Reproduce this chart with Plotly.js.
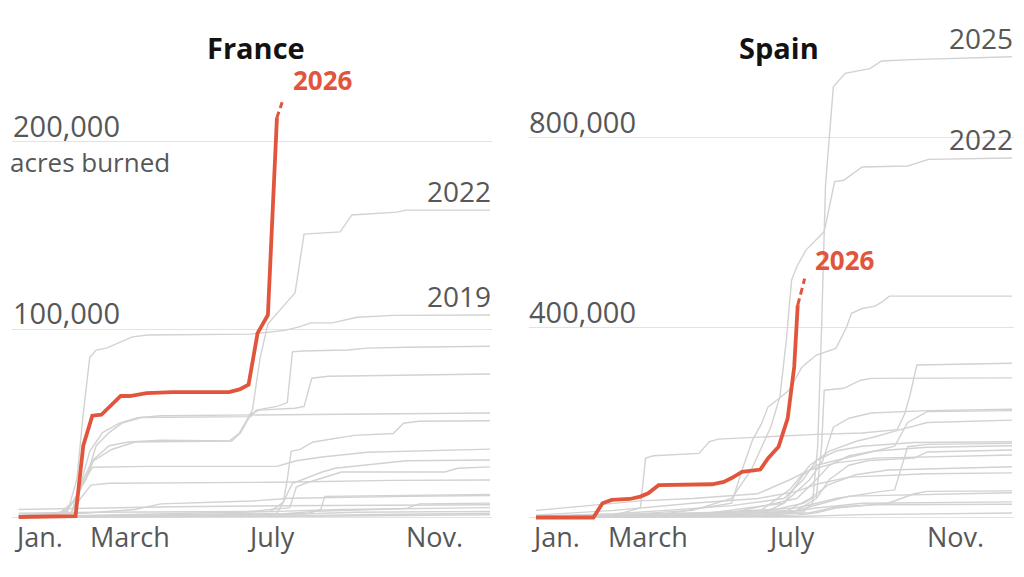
<!DOCTYPE html>
<html>
<head>
<meta charset="utf-8">
<script src="https://cdn.plot.ly/plotly-3.0.1.min.js"></script>
<style>html,body{margin:0;padding:0;background:#fff;}#chart{width:1024px;height:577px;}</style>
</head>
<body>
<div id="chart"></div>
<script>
// ---------- DATA (x = day of year, y = cumulative acres burned) ----------
const monthLabels = ['Jan.', 'March', 'July', 'Nov.'];
const monthDays = [0, 59, 181, 304];

const franceTicks = [0, 100000, 200000];
const franceTickLabels = ['', '100,000', '200,000'];
const spainTicks = [0, 400000, 800000];
const spainTickLabels = ['', '400,000', '800,000'];

// France 2026 (solid) and its latest, provisional stretch (dashed)
const france2026 = [[0,0],[44,500],[50,38000],[57,54000],[64,54500],[70,58600],[79,64500],[86,64500],[99,66000],[119,66600],[163,66600],[171,68000],[178,70500],[185,98000],[193,107700],[200,213000]];
const france2026Latest = [[200,213000],[205,223000]];

const france2022 = [[0,0],[40,1000],[50,20000],[57,30000],[70,38000],[85,40000],[110,41000],[163,40500],[171,44800],[181,57000],[187,85000],[193,103000],[207,114000],[214,119400],[221,150800],[249,152000],[258,161000],[293,162500],[300,163600],[365,163600]];
const france2019 = [[0,500],[38,3000],[45,20000],[50,55000],[55,85000],[60,89000],[68,90000],[78,93000],[88,96000],[100,97000],[180,97500],[206,99500],[218,101500],[226,103500],[243,103500],[262,106500],[290,107500],[365,107700]];
const franceOtherYears = [
  [[0,0],[30,1000],[40,6000],[52,20000],[60,38000],[70,45000],[80,50000],[95,53000],[180,53500],[184,57000],[200,59000],[208,61000],[212,88000],[220,88500],[255,89000],[270,90000],[300,90500],[365,91000]],
  [[0,0],[35,2000],[45,10000],[55,35000],[65,45000],[78,50000],[92,53000],[110,54000],[250,54800],[365,55400]],
  [[0,0],[40,500],[48,15000],[58,30000],[72,36000],[90,40000],[165,40500],[172,45000],[180,55000],[186,57000],[214,58000],[221,59000],[227,74000],[240,75000],[365,76200]],
  [[0,0],[100,1500],[195,3000],[205,8000],[208,20000],[211,35000],[218,36000],[228,40000],[245,42000],[260,43500],[290,44500],[298,50000],[310,51000],[365,51300]],
  [[0,0],[30,1000],[42,8000],[50,18000],[57,26500],[100,27000],[200,27000],[205,28000],[215,30000],[235,32000],[270,34500],[365,36200]],
  [[0,0],[60,500],[150,1500],[200,2000],[205,8000],[212,18000],[220,20000],[235,24000],[245,26000],[270,28000],[300,30000],[365,30400]],
  [[0,0],[150,1000],[210,5000],[215,16000],[222,18000],[250,24000],[330,24000],[340,26000],[365,26700]],
  [[0,500],[40,2000],[48,10000],[56,17000],[70,18000],[200,18500],[290,19500],[365,19700]],
  [[0,0],[150,500],[225,2000],[234,4000],[237,11000],[300,11500],[365,12000]],
  [[0,1000],[50,2000],[90,4000],[110,7000],[180,8500],[210,10000],[300,11000],[365,11500]],
  [[0,0],[100,500],[200,1500],[230,3000],[300,4500],[310,7000],[365,7400]],
  [[0,4000],[40,4500],[60,5000],[120,5500],[200,6000],[365,6500]],
  [[0,2000],[60,2500],[200,3000],[250,4000],[365,5000]],
  [[0,0],[180,500],[215,1500],[260,2500],[365,3000]],
  [[0,0],[200,300],[260,1200],[365,2000]],
  [[0,0],[250,500],[365,1200]]
];

// Spain
const spain2026 = [[0,0],[44,0],[51,30000],[58,37000],[72,39000],[80,44000],[86,51000],[94,68000],[135,70000],[144,75000],[150,83000],[158,96000],[172,101000],[178,125000],[186,149000],[193,209000],[198,317000],[200.7,447000]];
const spain2026Latest = [[200.7,447000],[206,503000]];

const spain2025 = [[0,0],[100,3000],[180,8000],[205,12000],[212,30000],[216,150000],[219,400000],[222,700000],[228,907000],[237,935000],[256,945000],[265,961000],[288,964000],[365,970000]];
const spain2022 = [[0,0],[60,5000],[120,15000],[150,40000],[165,100000],[175,160000],[180,190000],[187,254000],[192,374000],[196,500000],[200,528000],[207,563000],[221,602000],[229,707000],[236,710000],[250,738000],[285,740000],[301,754000],[365,757000]];
const spainOtherYears = [
  [[0,0],[60,3000],[100,8000],[150,30000],[158,100000],[166,163000],[173,198000],[178,233000],[187,252000],[194,268000],[204,317000],[215,342000],[230,356000],[238,400000],[242,430000],[250,440000],[260,445000],[266,455000],[271,466000],[365,466000]],
  [[0,0],[60,5000],[80,20000],[84,125000],[90,130000],[125,135000],[133,160000],[140,165000],[215,175000],[250,178000],[277,185000],[283,220000],[287,260000],[292,321000],[365,324600]],
  [[0,0],[100,5000],[180,15000],[205,30000],[215,45000],[219,150000],[221,268000],[236,272000],[249,289000],[257,293000],[365,294000]],
  [[0,0],[120,5000],[190,30000],[210,80000],[220,120000],[228,190000],[240,209000],[257,220000],[300,225000],[365,228000]],
  [[0,0],[150,10000],[200,40000],[215,80000],[225,110000],[240,130000],[260,140000],[275,150000],[285,200000],[300,223000],[365,225000]],
  [[0,0],[100,2000],[170,10000],[195,60000],[210,110000],[225,140000],[245,160000],[260,170000],[278,184000],[300,200000],[365,205000]],
  [[0,3000],[60,8000],[100,15000],[150,25000],[190,40000],[205,80000],[215,120000],[230,140000],[250,150000],[290,158000],[365,159600]],
  [[0,0],[100,5000],[200,20000],[230,40000],[265,55000],[275,58000],[285,149000],[300,154000],[365,156000]],
  [[0,0],[100,5000],[175,10000],[190,30000],[205,90000],[215,110000],[230,120000],[260,140000],[300,148000],[365,151000]],
  [[0,0],[150,5000],[200,15000],[215,40000],[225,80000],[240,110000],[255,120000],[290,125000],[300,138000],[365,142000]],
  [[0,15000],[40,25000],[80,35000],[120,40000],[170,50000],[195,80000],[210,100000],[230,115000],[260,125000],[365,131600]],
  [[0,0],[100,5000],[190,10000],[210,40000],[225,70000],[245,90000],[270,100000],[365,107000]],
  [[0,5000],[60,15000],[120,30000],[170,40000],[200,55000],[215,70000],[240,85000],[300,92000],[365,94000]],
  [[0,0],[150,3000],[200,5000],[215,10000],[230,20000],[270,30000],[290,50000],[300,55000],[365,56000]],
  [[0,2000],[100,8000],[200,15000],[220,30000],[240,45000],[365,52000]],
  [[0,1000],[100,5000],[190,10000],[215,20000],[250,30000],[365,33000]],
  [[0,0],[150,2000],[210,10000],[230,22000],[260,27000],[365,28000]],
  [[0,0],[200,2000],[250,6000],[365,9500]]
];

// ---------- STYLE ----------
const RED = '#e1553d';
const GREY = '#d2d2d2';
const GRID = '#e3e3e3';
const TEXT = '#575757';
const FONT = '"Open Sans", Roboto, Arial, sans-serif';

function xs(s){ return s.map(p => p[0]); }
function ys(s){ return s.map(p => p[1]); }

const traces = [];
function grey(s, xa, ya){
  traces.push({x: xs(s), y: ys(s), xaxis: xa, yaxis: ya, mode: 'lines', type: 'scatter',
    line: {color: GREY, width: 1.4}, hoverinfo: 'skip', showlegend: false});
}
franceOtherYears.forEach(s => grey(s, 'x', 'y'));
grey(france2019, 'x', 'y');
grey(france2022, 'x', 'y');
spainOtherYears.forEach(s => grey(s, 'x2', 'y2'));
grey(spain2022, 'x2', 'y2');
grey(spain2025, 'x2', 'y2');

function red(s, xa, ya, dash){
  traces.push({x: xs(s), y: ys(s), xaxis: xa, yaxis: ya, mode: 'lines', type: 'scatter',
    line: {color: RED, width: dash ? 3 : 3.8, dash: dash || 'solid'}, hoverinfo: 'skip', showlegend: false});
}
red(france2026, 'x', 'y');
red(france2026Latest, 'x', 'y', '6px,4px');
red(spain2026, 'x2', 'y2');
red(spain2026Latest, 'x2', 'y2', '7px,4px');

// ---------- LAYOUT (pixel geometry) ----------
const W = 1024, H = 577;
const plotTop = 30, plotBottom = 522;
const yDomain = [(H - plotBottom) / H, (H - plotTop) / H];

function axisY(zeroPx, pxPerUnit){
  return [-(plotBottom - zeroPx) / pxPerUnit, (zeroPx - plotTop) / pxPerUnit];
}
function axisX(left, right, day0Px, day365Px){
  const ppd = (day365Px - day0Px) / 365;
  return [-(day0Px - left) / ppd, 365 + (right - day365Px) / ppd];
}

const frLeft = 12, frRight = 492, esLeft = 529, esRight = 1014;

const commonX = {showgrid: false, zeroline: false, showline: false, showticklabels: false, ticks: '', fixedrange: true};
const commonY = {showgrid: true, gridcolor: GRID, gridwidth: 1, zeroline: false, showline: false,
  showticklabels: false, ticks: '', tickmode: 'array', fixedrange: true, domain: yDomain};

const annotations = [];
function txt(o){ annotations.push(Object.assign({showarrow: false, borderpad: 0}, o)); }

// titles
txt({text: '<b>France</b>', xref: 'paper', yref: 'paper', x: 256 / W, y: (H - 48) / H, xanchor: 'center', yanchor: 'middle',
  font: {family: FONT, size: 29, color: '#121212'}});
txt({text: '<b>Spain</b>', xref: 'paper', yref: 'paper', x: 779 / W, y: (H - 48) / H, xanchor: 'center', yanchor: 'middle',
  font: {family: FONT, size: 29, color: '#121212'}});

// y tick labels above gridlines
franceTicks.forEach((v, i) => { if (franceTickLabels[i]) txt({text: franceTickLabels[i], xref: 'paper', yref: 'y', x: 12 / W, y: v,
  xanchor: 'left', yanchor: 'bottom', yshift: -4, font: {family: FONT, size: 29, color: TEXT}}); });
spainTicks.forEach((v, i) => { if (spainTickLabels[i]) txt({text: spainTickLabels[i], xref: 'paper', yref: 'y2', x: 528 / W, y: v,
  xanchor: 'left', yanchor: 'bottom', yshift: -4, font: {family: FONT, size: 29, color: TEXT}}); });
txt({text: 'acres burned', xref: 'paper', yref: 'y', x: 9 / W, y: franceTicks[2], xanchor: 'left', yanchor: 'top', yshift: -1,
  font: {family: FONT, size: 26, color: TEXT}});

// month labels
monthDays.forEach((d, i) => {
  txt({text: monthLabels[i], xref: 'x', yref: 'paper', x: d, y: (H - 536) / H, xanchor: 'left', yanchor: 'middle', xshift: -6,
    font: {family: FONT, size: 27, color: TEXT}});
  txt({text: monthLabels[i], xref: 'x2', yref: 'paper', x: d, y: (H - 536) / H, xanchor: 'left', yanchor: 'middle', xshift: -6,
    font: {family: FONT, size: 27, color: TEXT}});
});

// series labels
function endLabel(s, label, xa, ya){
  const p = s[s.length - 1];
  txt({text: label, xref: xa, yref: ya, x: p[0], y: p[1], xanchor: 'right', yanchor: 'bottom', xshift: 2, yshift: -1,
    font: {family: FONT, size: 28, color: TEXT}});
}
endLabel(france2022, '2022', 'x', 'y');
endLabel(france2019, '2019', 'x', 'y');
endLabel(spain2025, '2025', 'x2', 'y2');
endLabel(spain2022, '2022', 'x2', 'y2');

function redLabel(s, xa, ya){
  const p = s[s.length - 1];
  txt({text: '<b>2026</b>', xref: xa, yref: ya, x: p[0], y: p[1], xanchor: 'left', yanchor: 'middle', xshift: 9, yshift: 19,
    font: {family: FONT, size: 26, color: RED}});
}
redLabel(france2026Latest, 'x', 'y');
redLabel(spain2026Latest, 'x2', 'y2');

const layout = {
  width: W, height: H,
  margin: {l: 0, r: 0, t: 0, b: 0, pad: 0},
  paper_bgcolor: '#fff', plot_bgcolor: '#fff',
  showlegend: false,
  xaxis: Object.assign({}, commonX, {domain: [frLeft / W, frRight / W], range: axisX(frLeft, frRight, 18.7, 490), anchor: 'y'}),
  yaxis: Object.assign({}, commonY, {range: axisY(517, 187.6 / 100000), tickvals: franceTicks, anchor: 'x'}),
  xaxis2: Object.assign({}, commonX, {domain: [esLeft / W, esRight / W], range: axisX(esLeft, esRight, 536, 1012), anchor: 'y2'}),
  yaxis2: Object.assign({}, commonY, {range: axisY(517.5, 190 / 400000), tickvals: spainTicks, anchor: 'x2'}),
  annotations: annotations
};

Plotly.newPlot('chart', traces, layout, {staticPlot: true, displayModeBar: false});
</script>
</body>
</html>
